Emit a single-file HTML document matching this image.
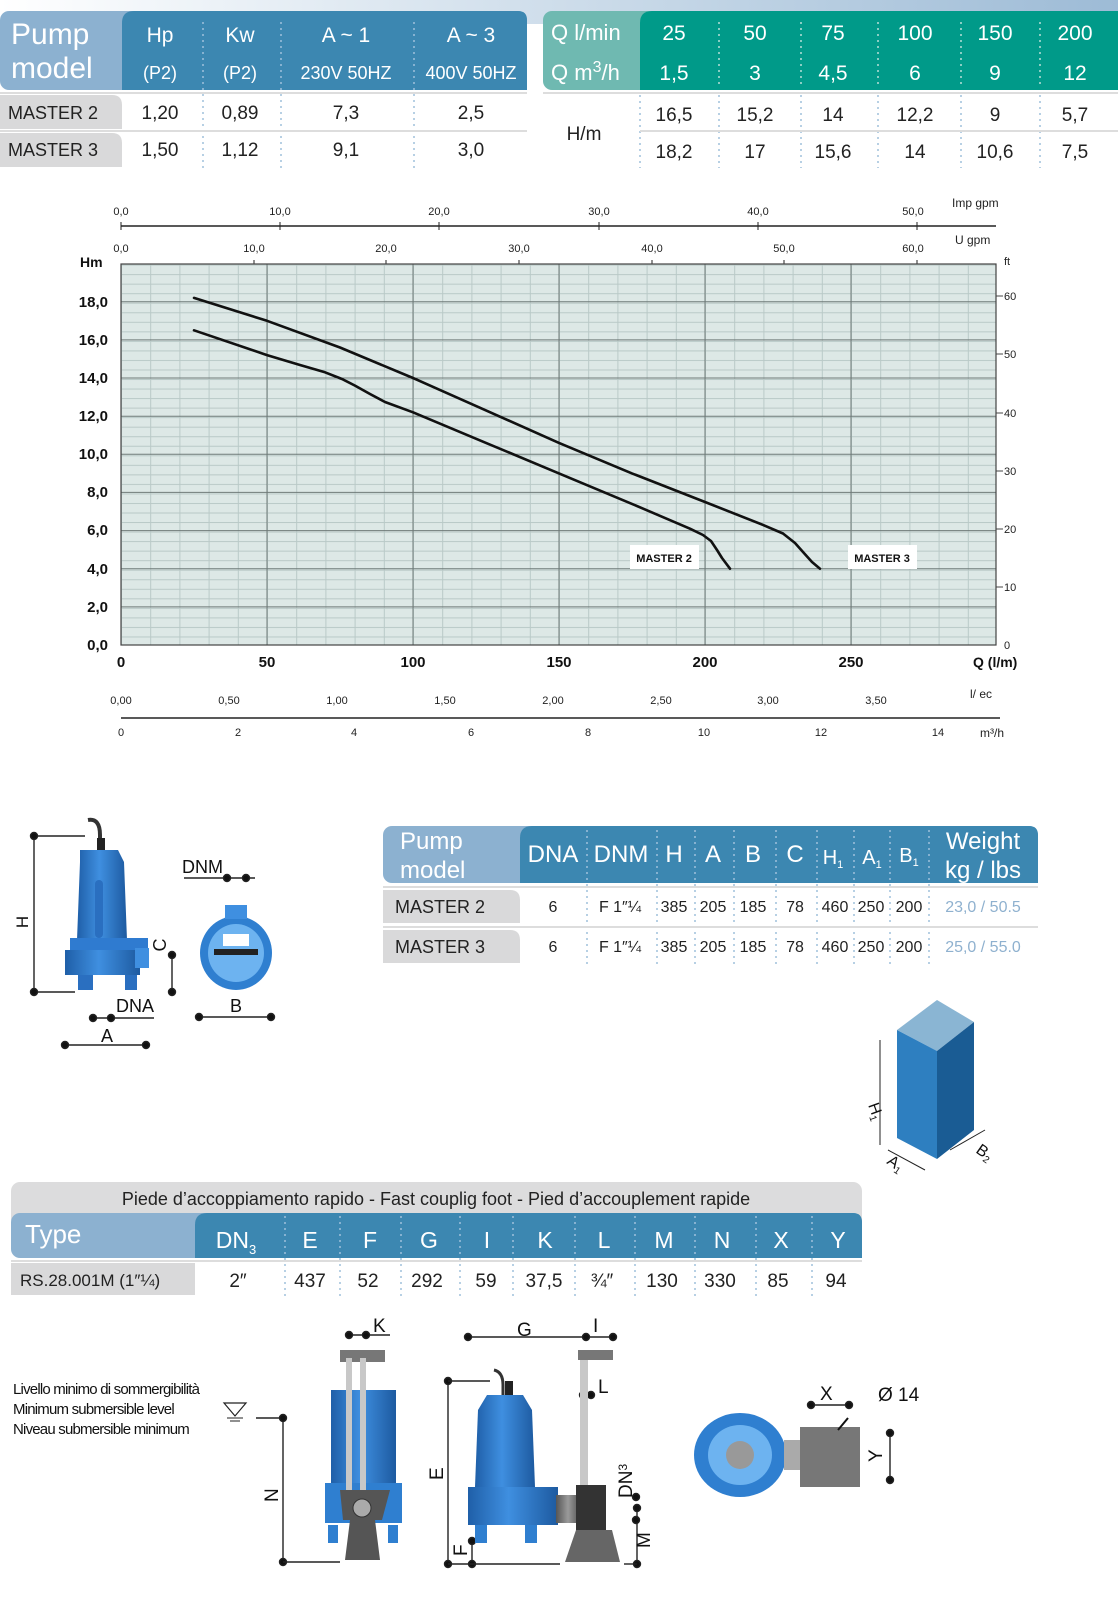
<!DOCTYPE html>
<html><head><meta charset="utf-8"><style>
html,body{margin:0;padding:0;background:#fff}
svg{display:block}
text{font-family:"Liberation Sans Narrow","Liberation Sans",sans-serif}
</style></head><body>
<svg width="1118" height="1607" viewBox="0 0 1118 1607" xmlns="http://www.w3.org/2000/svg">
<defs>
<linearGradient id="topg" x1="0" x2="1"><stop offset="0" stop-color="#fff"/><stop offset="1" stop-color="#9dbbd6"/></linearGradient>
<linearGradient id="blue" x1="0" x2="1"><stop offset="0" stop-color="#1f5fa8"/><stop offset="0.45" stop-color="#3f8fe0"/><stop offset="1" stop-color="#1d5aa0"/></linearGradient>
<linearGradient id="gray" x1="0" x2="1"><stop offset="0" stop-color="#555"/><stop offset="0.5" stop-color="#9a9a9a"/><stop offset="1" stop-color="#555"/></linearGradient>
<pattern id="minv" x="121" y="0" width="29.2" height="10" patternUnits="userSpaceOnUse"><line x1="0.5" y1="0" x2="0.5" y2="10" stroke="#b9c9c7" stroke-width="1"/></pattern>
<pattern id="minh" x="0" y="264.6" width="10" height="9.535" patternUnits="userSpaceOnUse"><line x1="0" y1="0.5" x2="10" y2="0.5" stroke="#b9c9c7" stroke-width="1"/></pattern>
</defs>

<!-- top gradient strip -->
<rect x="0" y="0" width="1118" height="24" fill="url(#topg)"/>

<!-- Top-left table header -->
<rect x="0" y="11" width="527" height="79" rx="9" fill="#8cb1d0"/>
<path d="M122 23 Q122 11 134 11 L518 11 Q527 11 527 20 L527 90 L122 90 Z" fill="#3c87b1"/>
<text x="11" y="44" font-size="30" fill="#fff">Pump</text>
<text x="11" y="78" font-size="30" fill="#fff">model</text>
<g fill="#fff" font-size="21" text-anchor="middle">
<text x="160" y="42">Hp</text><text x="240" y="42">Kw</text><text x="346" y="42">A ~ 1</text><text x="471" y="42">A ~ 3</text>
<text x="160" y="79" font-size="18">(P2)</text><text x="240" y="79" font-size="18">(P2)</text><text x="346" y="79" font-size="18">230V 50HZ</text><text x="471" y="79" font-size="18">400V 50HZ</text>
</g>
<g stroke="#9fc0dc" stroke-width="1.5" stroke-dasharray="2 4">
<line x1="203" y1="22" x2="203" y2="168"/><line x1="281" y1="22" x2="281" y2="168"/><line x1="414" y1="22" x2="414" y2="168"/>
</g>
<line x1="0" y1="93" x2="527" y2="93" stroke="#ddd" stroke-width="2"/>
<line x1="0" y1="131" x2="527" y2="131" stroke="#ddd" stroke-width="2"/>
<path d="M0 95 L112 95 Q122 95 122 105 L122 129 L0 129 Z" fill="#d9d9da"/>
<path d="M0 133 L112 133 Q122 133 122 143 L122 167 L0 167 Z" fill="#d9d9da"/>
<g font-size="18" fill="#222"><text x="8" y="119">MASTER 2</text><text x="8" y="156">MASTER 3</text></g>
<g font-size="19" fill="#222" text-anchor="middle">
<text x="160" y="119">1,20</text><text x="240" y="119">0,89</text><text x="346" y="119">7,3</text><text x="471" y="119">2,5</text>
<text x="160" y="156">1,50</text><text x="240" y="156">1,12</text><text x="346" y="156">9,1</text><text x="471" y="156">3,0</text>
</g>

<!-- Top-right table -->
<rect x="543" y="11" width="575" height="79" rx="9" fill="#6fb9b1"/>
<path d="M640 23 Q640 11 652 11 L1118 11 L1118 90 L640 90 Z" fill="#009a89"/>
<text x="551" y="40" font-size="22" fill="#fff">Q l/min</text>
<text x="551" y="80" font-size="22" fill="#fff">Q m<tspan font-size="16" dy="-8">3</tspan><tspan dy="8">/h</tspan></text>
<g fill="#fff" font-size="21" text-anchor="middle">
<text x="674" y="40">25</text><text x="755" y="40">50</text><text x="833" y="40">75</text><text x="915" y="40">100</text><text x="995" y="40">150</text><text x="1075" y="40">200</text>
<text x="674" y="80">1,5</text><text x="755" y="80">3</text><text x="833" y="80">4,5</text><text x="915" y="80">6</text><text x="995" y="80">9</text><text x="1075" y="80">12</text>
</g>
<g stroke="#b8e0d8" stroke-width="1.5" stroke-dasharray="2 4">
<line x1="719" y1="22" x2="719" y2="88"/><line x1="801" y1="22" x2="801" y2="88"/><line x1="878" y1="22" x2="878" y2="88"/><line x1="961" y1="22" x2="961" y2="88"/><line x1="1040" y1="22" x2="1040" y2="88"/>
</g>
<g stroke="#9fc0dc" stroke-width="1.5" stroke-dasharray="2 4">
<line x1="640" y1="95" x2="640" y2="168"/><line x1="719" y1="95" x2="719" y2="168"/><line x1="801" y1="95" x2="801" y2="168"/><line x1="878" y1="95" x2="878" y2="168"/><line x1="961" y1="95" x2="961" y2="168"/><line x1="1040" y1="95" x2="1040" y2="168"/>
</g>
<line x1="543" y1="93" x2="1118" y2="93" stroke="#ddd" stroke-width="2"/>
<line x1="640" y1="131" x2="1118" y2="131" stroke="#ddd" stroke-width="2"/>
<text x="584" y="140" font-size="19" fill="#222" text-anchor="middle">H/m</text>
<g font-size="19" fill="#222" text-anchor="middle">
<text x="674" y="121">16,5</text><text x="755" y="121">15,2</text><text x="833" y="121">14</text><text x="915" y="121">12,2</text><text x="995" y="121">9</text><text x="1075" y="121">5,7</text>
<text x="674" y="158">18,2</text><text x="755" y="158">17</text><text x="833" y="158">15,6</text><text x="915" y="158">14</text><text x="995" y="158">10,6</text><text x="1075" y="158">7,5</text>
</g>

<!-- Chart -->
<g font-size="11" fill="#222" text-anchor="middle">
<text x="121" y="215">0,0</text><text x="280" y="215">10,0</text><text x="439" y="215">20,0</text><text x="599" y="215">30,0</text><text x="758" y="215">40,0</text><text x="913" y="215">50,0</text>
<text x="121" y="252">0,0</text><text x="254" y="252">10,0</text><text x="386" y="252">20,0</text><text x="519" y="252">30,0</text><text x="652" y="252">40,0</text><text x="784" y="252">50,0</text><text x="913" y="252">60,0</text>
</g>
<text x="952" y="207" font-size="12" fill="#222">Imp gpm</text>
<text x="955" y="244" font-size="12" fill="#222">U   gpm</text>
<line x1="121" y1="226" x2="996" y2="226" stroke="#222" stroke-width="1.5"/>
<g stroke="#222" stroke-width="1"><line x1="121" y1="222" x2="121" y2="230"/><line x1="280" y1="222" x2="280" y2="230"/><line x1="439" y1="222" x2="439" y2="230"/><line x1="599" y1="222" x2="599" y2="230"/><line x1="758" y1="222" x2="758" y2="230"/><line x1="917" y1="222" x2="917" y2="230"/>
<line x1="254" y1="260" x2="254" y2="268"/><line x1="386" y1="260" x2="386" y2="268"/><line x1="519" y1="260" x2="519" y2="268"/><line x1="652" y1="260" x2="652" y2="268"/><line x1="784" y1="260" x2="784" y2="268"/><line x1="917" y1="260" x2="917" y2="268"/></g>

<rect x="121" y="264" width="875" height="381" fill="#dde8e6"/>
<rect x="121" y="264" width="875" height="381" fill="url(#minv)"/>
<rect x="121" y="264" width="875" height="381" fill="url(#minh)"/>
<g stroke="#6f7a78" stroke-width="1">
<line x1="267" y1="264" x2="267" y2="645"/><line x1="413" y1="264" x2="413" y2="645"/><line x1="559" y1="264" x2="559" y2="645"/><line x1="705" y1="264" x2="705" y2="645"/><line x1="851" y1="264" x2="851" y2="645"/>
<line x1="121" y1="606.9" x2="996" y2="606.9"/><line x1="121" y1="568.7" x2="996" y2="568.7"/><line x1="121" y1="530.6" x2="996" y2="530.6"/><line x1="121" y1="492.4" x2="996" y2="492.4"/><line x1="121" y1="454.3" x2="996" y2="454.3"/><line x1="121" y1="416.2" x2="996" y2="416.2"/><line x1="121" y1="378" x2="996" y2="378"/><line x1="121" y1="339.9" x2="996" y2="339.9"/><line x1="121" y1="301.7" x2="996" y2="301.7"/>
</g>
<rect x="121" y="264" width="875" height="381" fill="none" stroke="#444" stroke-width="1.2"/>
<g stroke="#444" stroke-width="1"><line x1="996" y1="587" x2="1003" y2="587"/><line x1="996" y1="529" x2="1003" y2="529"/><line x1="996" y1="471" x2="1003" y2="471"/><line x1="996" y1="413" x2="1003" y2="413"/><line x1="996" y1="354" x2="1003" y2="354"/><line x1="996" y1="296" x2="1003" y2="296"/></g>
<g font-size="11" fill="#222"><text x="1004" y="649">0</text><text x="1004" y="591">10</text><text x="1004" y="533">20</text><text x="1004" y="475">30</text><text x="1004" y="417">40</text><text x="1004" y="358">50</text><text x="1004" y="300">60</text><text x="1004" y="265">ft</text></g>
<text x="80" y="267" font-size="14" font-weight="bold" fill="#111">Hm</text>
<g font-size="15" font-weight="bold" fill="#111" text-anchor="end">
<text x="108" y="650">0,0</text><text x="108" y="612">2,0</text><text x="108" y="574">4,0</text><text x="108" y="535">6,0</text><text x="108" y="497">8,0</text><text x="108" y="459">10,0</text><text x="108" y="421">12,0</text><text x="108" y="383">14,0</text><text x="108" y="345">16,0</text><text x="108" y="307">18,0</text>
</g>
<g font-size="15" font-weight="bold" fill="#111" text-anchor="middle">
<text x="121" y="667">0</text><text x="267" y="667">50</text><text x="413" y="667">100</text><text x="559" y="667">150</text><text x="705" y="667">200</text><text x="851" y="667">250</text>
</g>
<text x="973" y="667" font-size="14" font-weight="bold" fill="#111">Q (l/m)</text>

<polyline fill="none" stroke="#111" stroke-width="2.6" stroke-linejoin="round" stroke-linecap="round" points="194,297.9 267,320.8 340,347.5 413,378 486,410.4 559,442.9 632,473.4 705,502 763,524.9 783,533.5 795,543 803,552 812,562 820,568.7"/>
<polyline fill="none" stroke="#111" stroke-width="2.6" stroke-linejoin="round" stroke-linecap="round" points="194,330.3 267,355.1 300,365 325,372.3 342,379 355,385.6 370,394 385,402 413,412.3 486,442.9 559,473.4 632,503.9 690,528.7 703,535 711,541 717,550 722,558 730,568.7"/>
<rect x="630" y="545" width="69" height="24" fill="#fff"/>
<rect x="848" y="545" width="69" height="24" fill="#fff"/>
<text x="664" y="562" font-size="11" font-weight="bold" fill="#111" text-anchor="middle">MASTER 2</text>
<text x="882" y="562" font-size="11" font-weight="bold" fill="#111" text-anchor="middle">MASTER 3</text>

<g font-size="11" fill="#222" text-anchor="middle">
<text x="121" y="704">0,00</text><text x="229" y="704">0,50</text><text x="337" y="704">1,00</text><text x="445" y="704">1,50</text><text x="553" y="704">2,00</text><text x="661" y="704">2,50</text><text x="768" y="704">3,00</text><text x="876" y="704">3,50</text>
<text x="121" y="736">0</text><text x="238" y="736">2</text><text x="354" y="736">4</text><text x="471" y="736">6</text><text x="588" y="736">8</text><text x="704" y="736">10</text><text x="821" y="736">12</text><text x="938" y="736">14</text>
</g>
<text x="970" y="698" font-size="12" fill="#222">l/ ec</text>
<text x="980" y="737" font-size="12" fill="#222">m³/h</text>
<line x1="121" y1="718" x2="1000" y2="718" stroke="#222" stroke-width="1.5"/>

<!-- Left pump drawing -->
<g>
<path d="M88 820 Q100 818 100 835 L100 848" fill="none" stroke="#333" stroke-width="4"/>
<rect x="97" y="838" width="8" height="14" fill="#222"/>
<path d="M80 850 L118 850 L124 862 L127 940 L77 940 L80 862 Z" fill="url(#blue)"/>
<rect x="95" y="880" width="8" height="58" rx="4" fill="#2a6fc0"/>
<rect x="70" y="938" width="78" height="12" fill="#2f7bd0"/>
<path d="M65 950 L140 950 L140 975 L65 975 Z" fill="url(#blue)"/>
<rect x="135" y="948" width="14" height="20" fill="#3f8fe0"/>
<rect x="78" y="975" width="15" height="15" fill="#2a6fc0"/><rect x="125" y="975" width="12" height="15" fill="#2a6fc0"/>
<g stroke="#222" stroke-width="1.4" fill="#111">
<line x1="34" y1="836" x2="85" y2="836"/><line x1="34" y1="836" x2="34" y2="992"/><line x1="34" y1="992" x2="75" y2="992"/>
<circle cx="34" cy="836" r="3.5"/><circle cx="34" cy="992" r="3.5"/>
<line x1="65" y1="1045" x2="146" y2="1045"/><circle cx="65" cy="1045" r="3.5"/><circle cx="146" cy="1045" r="3.5"/>
<line x1="93" y1="1018" x2="154" y2="1018"/><circle cx="93" cy="1018" r="3.5"/><circle cx="111" cy="1018" r="3.5"/>
<line x1="172" y1="955" x2="172" y2="992"/><circle cx="172" cy="955" r="3.5"/><circle cx="172" cy="992" r="3.5"/>
<line x1="184" y1="878" x2="255" y2="878"/><circle cx="227" cy="878" r="3.5"/><circle cx="246" cy="878" r="3.5"/>
<line x1="199" y1="1017" x2="271" y2="1017"/><circle cx="199" cy="1017" r="3.5"/><circle cx="271" cy="1017" r="3.5"/>
</g>
<text x="28" y="922" font-size="17" fill="#111" transform="rotate(-90 28 922)" text-anchor="middle">H</text>
<text x="116" y="1012" font-size="18" fill="#111">DNA</text>
<text x="107" y="1042" font-size="18" fill="#111" text-anchor="middle">A</text>
<text x="166" y="945" font-size="18" fill="#111" transform="rotate(-90 166 945)" text-anchor="middle">C</text>
<text x="182" y="873" font-size="18" fill="#111">DNM</text>
<text x="236" y="1012" font-size="18" fill="#111" text-anchor="middle">B</text>
<ellipse cx="236" cy="953" rx="36" ry="37" fill="#2f7fd0"/>
<ellipse cx="236" cy="953" rx="28" ry="29" fill="#6db3f0"/>
<rect x="225" y="905" width="22" height="14" fill="#3f8fe0"/>
<rect x="223" y="934" width="26" height="12" fill="#fff"/>
<rect x="214" y="949" width="44" height="6" fill="#222"/>
</g>

<!-- Second table -->
<rect x="383" y="826" width="655" height="57" rx="9" fill="#8cb1d0"/>
<path d="M520 838 Q520 826 532 826 L1029 826 Q1038 826 1038 835 L1038 883 L520 883 Z" fill="#3c87b1"/>
<text x="400" y="849" font-size="24" fill="#fff">Pump</text>
<text x="400" y="878" font-size="24" fill="#fff">model</text>
<g fill="#fff" font-size="24" text-anchor="middle">
<text x="553" y="862">DNA</text><text x="621" y="862">DNM</text><text x="674" y="862">H</text><text x="713" y="862">A</text><text x="753" y="862">B</text><text x="795" y="862">C</text>
<text x="833" y="864" font-size="20">H<tspan font-size="11" dy="4">1</tspan></text><text x="872" y="864" font-size="20">A<tspan font-size="11" dy="4">1</tspan></text><text x="909" y="862" font-size="20">B<tspan font-size="11" dy="4">1</tspan></text>
<text x="983" y="849" font-size="24">Weight</text><text x="983" y="878" font-size="24">kg / lbs</text>
</g>
<g stroke="#9fc0dc" stroke-width="1.5" stroke-dasharray="2 4">
<line x1="587" y1="830" x2="587" y2="965"/><line x1="657" y1="830" x2="657" y2="965"/><line x1="695" y1="830" x2="695" y2="965"/><line x1="734" y1="830" x2="734" y2="965"/><line x1="776" y1="830" x2="776" y2="965"/><line x1="817" y1="830" x2="817" y2="965"/><line x1="854" y1="830" x2="854" y2="965"/><line x1="890" y1="830" x2="890" y2="965"/><line x1="929" y1="830" x2="929" y2="965"/>
</g>
<line x1="383" y1="887" x2="1038" y2="887" stroke="#ddd" stroke-width="2"/>
<line x1="383" y1="927" x2="1038" y2="927" stroke="#ddd" stroke-width="2"/>
<path d="M383 890 L510 890 Q520 890 520 900 L520 923 L383 923 Z" fill="#d9d9da"/>
<path d="M383 930 L510 930 Q520 930 520 940 L520 963 L383 963 Z" fill="#d9d9da"/>
<g font-size="18" fill="#222"><text x="395" y="913">MASTER 2</text><text x="395" y="953">MASTER 3</text></g>
<g font-size="16" fill="#222" text-anchor="middle">
<text x="553" y="912">6</text><text x="620" y="912">F 1″¼</text><text x="674" y="912">385</text><text x="713" y="912">205</text><text x="753" y="912">185</text><text x="795" y="912">78</text><text x="835" y="912">460</text><text x="871" y="912">250</text><text x="909" y="912">200</text>
<text x="553" y="952">6</text><text x="620" y="952">F 1″¼</text><text x="674" y="952">385</text><text x="713" y="952">205</text><text x="753" y="952">185</text><text x="795" y="952">78</text><text x="835" y="952">460</text><text x="871" y="952">250</text><text x="909" y="952">200</text>
<text x="983" y="912" fill="#8fb1cf">23,0 / 50.5</text><text x="983" y="952" fill="#8fb1cf">25,0 / 55.0</text>
</g>

<!-- Cube -->
<polygon points="897,1030 937,1000 974,1022 937,1051" fill="#8ab5d3"/>
<polygon points="897,1030 937,1051 937,1159 897,1138" fill="#2e7fc0"/>
<polygon points="937,1051 974,1022 974,1130 937,1159" fill="#1a5c94"/>
<g stroke="#222" stroke-width="1"><line x1="880" y1="1040" x2="880" y2="1145"/><line x1="888" y1="1150" x2="925" y2="1170"/><line x1="950" y1="1150" x2="985" y2="1130"/></g>
<text x="868" y="1105" font-size="16" fill="#111" transform="rotate(70 868 1105)">H<tspan font-size="10" dy="3">1</tspan></text>
<text x="886" y="1163" font-size="16" fill="#111" transform="rotate(35 886 1163)">A<tspan font-size="10" dy="3">1</tspan></text>
<text x="975" y="1152" font-size="16" fill="#111" transform="rotate(35 975 1152)">B<tspan font-size="10" dy="3">2</tspan></text>

<!-- Third table -->
<rect x="11" y="1182" width="851" height="45" rx="9" fill="#dcdcdd"/>
<text x="436" y="1205" font-size="18" fill="#222" text-anchor="middle">Piede d’accoppiamento rapido - Fast couplig foot - Pied d’accouplement rapide</text>
<rect x="11" y="1213" width="851" height="45" rx="9" fill="#8cb1d0"/>
<path d="M195 1225 Q195 1213 207 1213 L853 1213 Q862 1213 862 1222 L862 1258 L195 1258 Z" fill="#3c87b1"/>
<text x="25" y="1243" font-size="26" fill="#fff">Type</text>
<g fill="#fff" font-size="23" text-anchor="middle">
<text x="236" y="1248">DN<tspan font-size="13" dy="6">3</tspan></text><text x="310" y="1248">E</text><text x="370" y="1248">F</text><text x="429" y="1248">G</text><text x="487" y="1248">I</text><text x="545" y="1248">K</text><text x="604" y="1248">L</text><text x="664" y="1248">M</text><text x="722" y="1248">N</text><text x="781" y="1248">X</text><text x="838" y="1248">Y</text>
</g>
<g stroke="#9fc0dc" stroke-width="1.5" stroke-dasharray="2 4">
<line x1="285" y1="1216" x2="285" y2="1298"/><line x1="340" y1="1216" x2="340" y2="1298"/><line x1="401" y1="1216" x2="401" y2="1298"/><line x1="460" y1="1216" x2="460" y2="1298"/><line x1="513" y1="1216" x2="513" y2="1298"/><line x1="575" y1="1216" x2="575" y2="1298"/><line x1="635" y1="1216" x2="635" y2="1298"/><line x1="695" y1="1216" x2="695" y2="1298"/><line x1="756" y1="1216" x2="756" y2="1298"/><line x1="812" y1="1216" x2="812" y2="1298"/>
</g>
<line x1="11" y1="1261" x2="862" y2="1261" stroke="#ddd" stroke-width="2"/>
<path d="M11 1263 L195 1263 L195 1295 L11 1295 Z" fill="#d9d9da"/>
<text x="20" y="1286" font-size="17" fill="#222">RS.28.001M (1″¼)</text>
<g font-size="19" fill="#222" text-anchor="middle">
<text x="238" y="1287">2″</text><text x="310" y="1287">437</text><text x="368" y="1287">52</text><text x="427" y="1287">292</text><text x="486" y="1287">59</text><text x="544" y="1287">37,5</text><text x="602" y="1287">¾″</text><text x="662" y="1287">130</text><text x="720" y="1287">330</text><text x="778" y="1287">85</text><text x="836" y="1287">94</text>
</g>

<!-- Bottom drawings -->
<g font-size="15" fill="#111" letter-spacing="-0.8">
<text x="13" y="1394">Livello minimo di sommergibilità</text>
<text x="13" y="1414">Minimum submersible level</text>
<text x="13" y="1434">Niveau submersible minimum</text>
</g>
<polygon points="224,1403 246,1403 235,1416" fill="none" stroke="#222" stroke-width="1.2"/>
<line x1="227" y1="1418" x2="243" y2="1418" stroke="#222"/><line x1="230" y1="1421" x2="240" y2="1421" stroke="#222"/>
<g stroke="#222" stroke-width="1.4" fill="#111">
<line x1="256" y1="1418" x2="283" y2="1418"/><line x1="283" y1="1418" x2="283" y2="1562"/><circle cx="283" cy="1418" r="3.5"/><circle cx="283" cy="1562" r="3.5"/><line x1="283" y1="1562" x2="340" y2="1562"/>
<line x1="349" y1="1335" x2="390" y2="1335"/><circle cx="349" cy="1335" r="3.5"/><circle cx="366" cy="1335" r="3.5"/>
<line x1="468" y1="1337" x2="613" y2="1337"/><circle cx="468" cy="1337" r="3.5"/><circle cx="586" cy="1337" r="3.5"/><circle cx="613" cy="1337" r="3.5"/>
<line x1="448" y1="1381" x2="448" y2="1564"/><circle cx="448" cy="1381" r="3.5"/><circle cx="448" cy="1564" r="3.5"/><line x1="448" y1="1381" x2="490" y2="1381"/>
<line x1="472" y1="1541" x2="472" y2="1564"/><circle cx="472" cy="1541" r="3.5"/><circle cx="472" cy="1564" r="3.5"/><line x1="448" y1="1564" x2="560" y2="1564"/>
<circle cx="583" cy="1395" r="3.5"/><circle cx="591" cy="1395" r="3.5"/>
<line x1="637" y1="1508" x2="637" y2="1564"/><circle cx="637" cy="1508" r="3.5"/><circle cx="637" cy="1564" r="3.5"/><line x1="624" y1="1564" x2="637" y2="1564"/>
<circle cx="636" cy="1497" r="3.5"/><circle cx="636" cy="1520" r="3.5"/>
<line x1="811" y1="1405" x2="849" y2="1405"/><circle cx="811" cy="1405" r="3.5"/><circle cx="849" cy="1405" r="3.5"/>
<line x1="890" y1="1433" x2="890" y2="1480"/><circle cx="890" cy="1433" r="3.5"/><circle cx="890" cy="1480" r="3.5"/>
</g>
<g font-size="19" fill="#111">
<text x="373" y="1332">K</text><text x="517" y="1336">G</text><text x="593" y="1332">I</text><text x="598" y="1393">L</text><text x="878" y="1401">Ø 14</text><text x="820" y="1400">X</text>
<text x="278" y="1502" transform="rotate(-90 278 1502)">N</text>
<text x="443" y="1480" transform="rotate(-90 443 1480)">E</text>
<text x="467" y="1556" transform="rotate(-90 467 1556)">F</text>
<text x="632" y="1498" transform="rotate(-90 632 1498)">DN<tspan font-size="12" dy="-5">3</tspan></text>
<text x="650" y="1548" transform="rotate(-90 650 1548)">M</text>
<text x="882" y="1462" transform="rotate(-90 882 1462)">Y</text>
</g>
<!-- front pump with rails -->
<rect x="331" y="1390" width="65" height="120" fill="url(#blue)"/>
<rect x="325" y="1483" width="77" height="40" fill="#2f7fd0"/>
<rect x="340" y="1350" width="45" height="12" fill="#777"/>
<rect x="346" y="1358" width="6" height="140" fill="#c8c8c8"/><rect x="360" y="1358" width="6" height="140" fill="#c8c8c8"/>
<path d="M340 1490 L390 1490 L382 1520 L375 1520 L380 1560 L345 1560 L350 1520 L343 1520 Z" fill="#555"/>
<circle cx="362" cy="1508" r="9" fill="#aaa" stroke="#333"/>
<rect x="328" y="1525" width="10" height="18" fill="#2f7fd0"/><rect x="388" y="1525" width="10" height="18" fill="#2f7fd0"/>
<!-- side pump -->
<path d="M494 1370 Q503 1372 503 1385 L503 1397" stroke="#333" stroke-width="3" fill="none"/>
<rect x="505" y="1381" width="8" height="16" fill="#222"/>
<path d="M487 1395 L523 1395 L532 1410 L535 1487 L475 1487 L478 1410 Z" fill="url(#blue)"/>
<rect x="468" y="1487" width="90" height="38" fill="url(#blue)"/>
<rect x="475" y="1525" width="12" height="18" fill="#2f7fd0"/><rect x="525" y="1525" width="12" height="18" fill="#2f7fd0"/>
<rect x="556" y="1495" width="24" height="28" fill="url(#gray)"/>
<rect x="576" y="1485" width="30" height="45" fill="#333"/>
<path d="M576 1530 L612 1530 L620 1562 L565 1562 Z" fill="#666"/>
<rect x="580" y="1350" width="8" height="135" fill="#c8c8c8"/>
<rect x="578" y="1350" width="35" height="10" fill="#777"/>
<!-- top view -->
<ellipse cx="740" cy="1455" rx="46" ry="42" fill="#2f7fd0"/>
<ellipse cx="740" cy="1455" rx="32" ry="30" fill="#6db3f0"/>
<circle cx="740" cy="1455" r="14" fill="#999"/>
<rect x="784" y="1440" width="18" height="30" fill="#aaa"/>
<rect x="800" y="1427" width="60" height="60" fill="#777"/>
<line x1="848" y1="1418" x2="838" y2="1430" stroke="#111" stroke-width="2"/>
</svg>
</body></html>
